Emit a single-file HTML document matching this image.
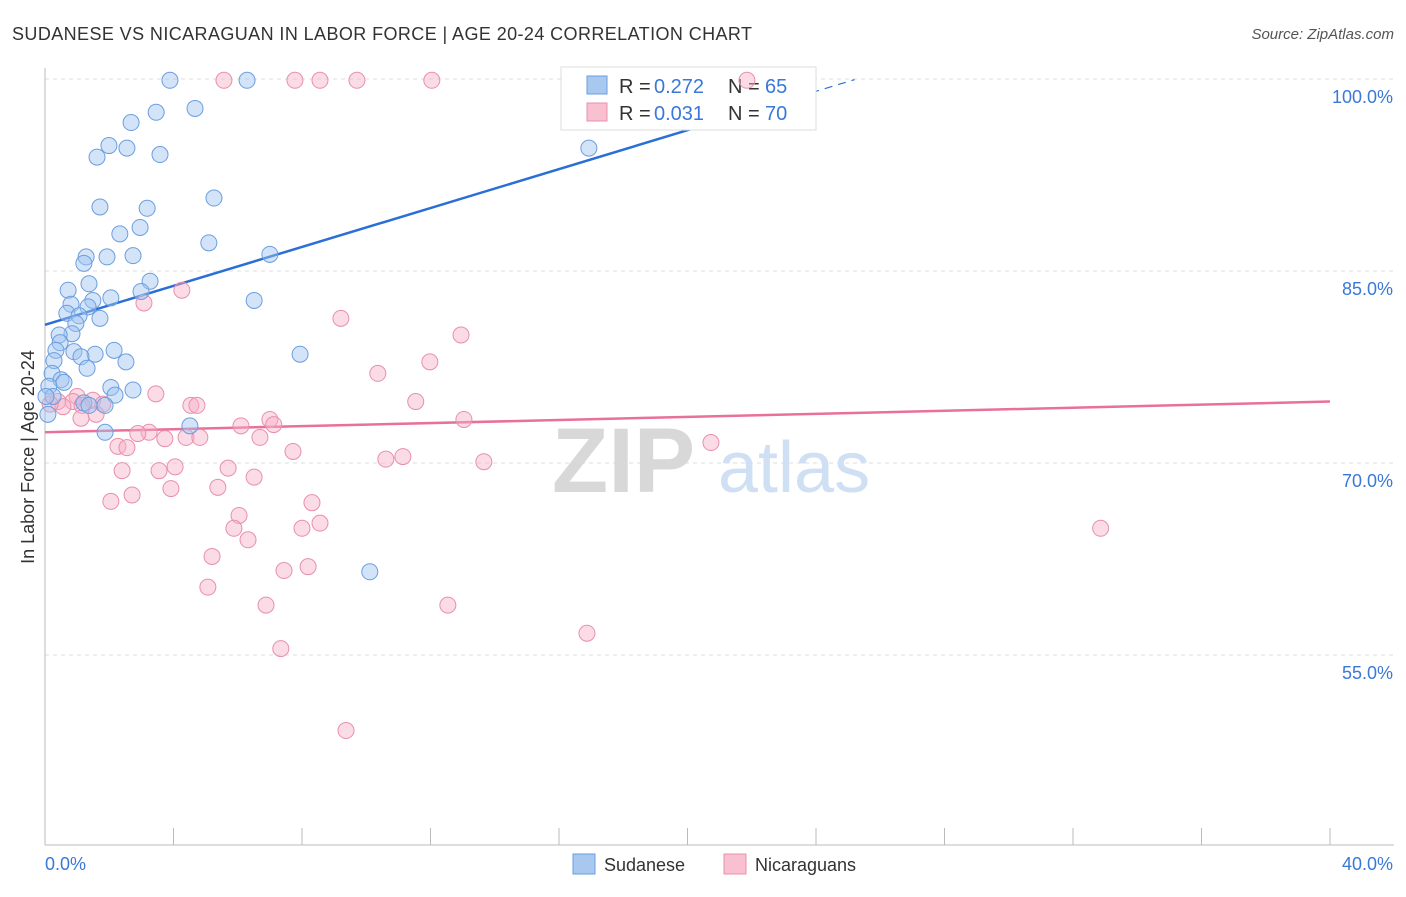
<!DOCTYPE html>
<html><head><meta charset="utf-8"><style>
body{margin:0;background:#fff;font-family:"Liberation Sans",sans-serif}
svg text{font-family:"Liberation Sans",sans-serif}
</style></head><body>
<svg id="chart" width="1406" height="892" viewBox="0 0 1406 892" xmlns="http://www.w3.org/2000/svg">
<text x="12" y="40" font-size="18" fill="#333" textLength="740">SUDANESE VS NICARAGUAN IN LABOR FORCE | AGE 20-24 CORRELATION CHART</text>
<text x="1394" y="39" font-size="15" fill="#555" font-style="italic" text-anchor="end">Source: ZipAtlas.com</text>
<g id="grid"></g>
<g>
<text x="552" y="492" font-size="92" fill="#d8d8d8" font-family="Liberation Serif,serif" font-weight="bold">ZIP</text>
<text x="718" y="492" font-size="72" fill="#cfe0f4">atlas</text>
</g>
<g id="axes"></g>
<g id="lines"></g>
<g>
<rect x="561" y="67" width="255" height="63" fill="#fff" stroke="#ddd"/>
<rect x="587" y="76" width="20" height="18" fill="#a8c8f0" stroke="#6a9ee0"/>
<rect x="587" y="103" width="20" height="18" fill="#f8c0d0" stroke="#e890aa"/>
<text x="619" y="93" font-size="20" fill="#333">R = </text><text x="654" y="93" font-size="20" fill="#3a78d8">0.272</text>
<text x="728" y="93" font-size="20" fill="#333">N = </text><text x="765" y="93" font-size="20" fill="#3a78d8">65</text>
<text x="619" y="120" font-size="20" fill="#333">R = </text><text x="654" y="120" font-size="20" fill="#3a78d8">0.031</text>
<text x="728" y="120" font-size="20" fill="#333">N = </text><text x="765" y="120" font-size="20" fill="#3a78d8">70</text>
</g>
<g id="pts"></g>
<text transform="translate(34,457) rotate(-90)" font-size="18" fill="#333" text-anchor="middle">In Labor Force | Age 20-24</text>
<g>
<rect x="573" y="854" width="22" height="20" fill="#a8c8f0" stroke="#6a9ee0"/>
<text x="604" y="871" font-size="18" fill="#333">Sudanese</text>
<rect x="724" y="854" width="22" height="20" fill="#f8c0d0" stroke="#e890aa"/>
<text x="755" y="871" font-size="18" fill="#333">Nicaraguans</text>
</g>
</svg>
<script>
const yTicks=[55,70,85,100];
const xTickLabels=["0.0%","40.0%"];
const blueX=[3.89,6.29,4.67,3.46,2.68,1.99,2.55,1.62,3.58,16.93,5.26,1.71,3.18,2.96,2.33,5.10,1.93,2.74,1.28,7.00,1.21,3.27,1.37,0.72,2.99,6.51,2.05,1.49,0.81,1.34,0.68,1.06,1.71,0.96,0.84,0.44,0.47,0.34,0.90,2.15,1.56,1.12,7.94,2.52,0.28,1.31,0.22,0.50,0.59,0.12,2.05,2.74,2.18,0.25,1.21,1.87,1.37,0.09,1.87,4.51,10.11,0.03];
const blueY=[99.9,99.9,97.7,97.4,96.6,94.8,94.6,93.9,94.1,94.6,90.7,90.0,89.9,88.4,87.9,87.2,86.1,86.2,86.1,86.3,85.6,84.2,84.0,83.5,83.4,82.7,82.9,82.7,82.4,82.2,81.7,81.5,81.3,80.9,80.1,80.0,79.4,78.8,78.7,78.8,78.5,78.3,78.5,77.9,78.0,77.4,77.0,76.5,76.3,76.0,75.9,75.7,75.3,75.2,74.7,74.5,74.5,73.8,72.4,72.9,61.5,75.2];
const pinkX=[5.57,7.78,8.56,9.71,12.04,21.85,4.26,3.08,9.21,12.95,11.98,10.36,3.45,1.00,0.87,1.49,1.80,0.40,0.56,0.16,11.54,4.54,4.73,1.15,7.00,7.12,13.04,1.59,1.12,6.10,3.24,2.89,3.73,4.39,4.82,6.69,2.27,2.55,20.73,7.72,11.14,10.61,13.66,4.05,5.70,2.40,3.55,6.51,5.38,3.92,2.71,2.05,8.31,8.56,6.04,8.00,5.88,6.32,32.86,5.20,8.19,7.44,5.07,6.88,12.54,16.87,7.34,9.37];
const pinkY=[99.9,99.9,99.9,99.9,99.9,99.9,83.5,82.5,81.3,80.0,77.9,77.0,75.4,75.2,74.8,74.9,74.6,74.8,74.4,74.6,74.8,74.5,74.5,74.5,73.4,73.0,73.4,73.8,73.5,72.9,72.4,72.3,71.9,72.0,72.0,72.0,71.3,71.2,71.6,70.9,70.5,70.3,70.1,69.7,69.6,69.4,69.4,68.9,68.1,68.0,67.5,67.0,66.9,65.3,65.9,64.9,64.9,64.0,64.9,62.7,61.9,61.6,60.3,58.9,58.9,56.7,55.5,49.1];
const blueLine=[80.8,0.76];
const pinkLine=[72.4,0.06];
const NS="http://www.w3.org/2000/svg";
const X=v=>45+v/40*1285;
const Y=v=>79+(100-v)*12.8;
function mk(t,a,p){const e=document.createElementNS(NS,t);for(const k in a)e.setAttribute(k,a[k]);p.appendChild(e);return e;}
const grid=document.getElementById('grid'),axes=document.getElementById('axes');
yTicks.forEach(t=>{
 const l=mk('line',{x1:45,x2:1394,y1:Y(t),y2:Y(t),stroke:'#ddd','stroke-dasharray':'4,4'},grid);
 
 
 const tx=mk('text',{x:1393,y:Y(t)+24,'font-size':18,fill:'#3a78d8','text-anchor':'end'},axes);
 tx.textContent=t.toFixed(1)+'%';
 
 
});
mk('line',{x1:45,x2:45,y1:68,y2:845,stroke:'#bbb'},axes);
mk('line',{x1:45,x2:1394,y1:845,y2:845,stroke:'#bbb'},axes);
for(let i=0;i<=10;i++){const t=mk('line',{x1:X(i*4),x2:X(i*4),y1:828,y2:845,stroke:'#bbb'},axes);
 
 }
[[0,'start'],[40,'end']].forEach((d,i)=>{const tx=mk('text',{x:X(d[0])+(i?63:0),y:870,'font-size':18,fill:'#3a78d8','text-anchor':d[1]},axes);tx.textContent=xTickLabels[i];
 
 });
const pts=document.getElementById('pts');
pinkX.forEach((x,i)=>{const c=mk('circle',{cx:X(x),cy:Y(pinkY[i]),r:8,fill:'rgba(246,176,198,0.45)',stroke:'#e890aa','stroke-width':1},pts);
 
 });
blueX.forEach((x,i)=>{const c=mk('circle',{cx:X(x),cy:Y(blueY[i]),r:8,fill:'rgba(160,196,240,0.45)',stroke:'#6a9ee0','stroke-width':1},pts);
 
 });
const lines=document.getElementById('lines');
const bl=v=>blueLine[0]+blueLine[1]*v;
const b1=mk('line',{x1:X(0),y1:Y(bl(0)),x2:X(20.1),y2:Y(bl(20.1)),stroke:'#2a6fd6','stroke-width':2.5},lines);


const b2=mk('line',{x1:X(20.1),y1:Y(bl(20.1)),x2:X(25.2),y2:Y(bl(25.2)),stroke:'#2a6fd6','stroke-width':1.2,'stroke-dasharray':'8,6'},lines);


const pl=v=>pinkLine[0]+pinkLine[1]*v;
const p1=mk('line',{x1:X(0),y1:Y(pl(0)),x2:X(40),y2:Y(pl(40)),stroke:'#e8709a','stroke-width':2.5},lines);


</script>
</body></html>
